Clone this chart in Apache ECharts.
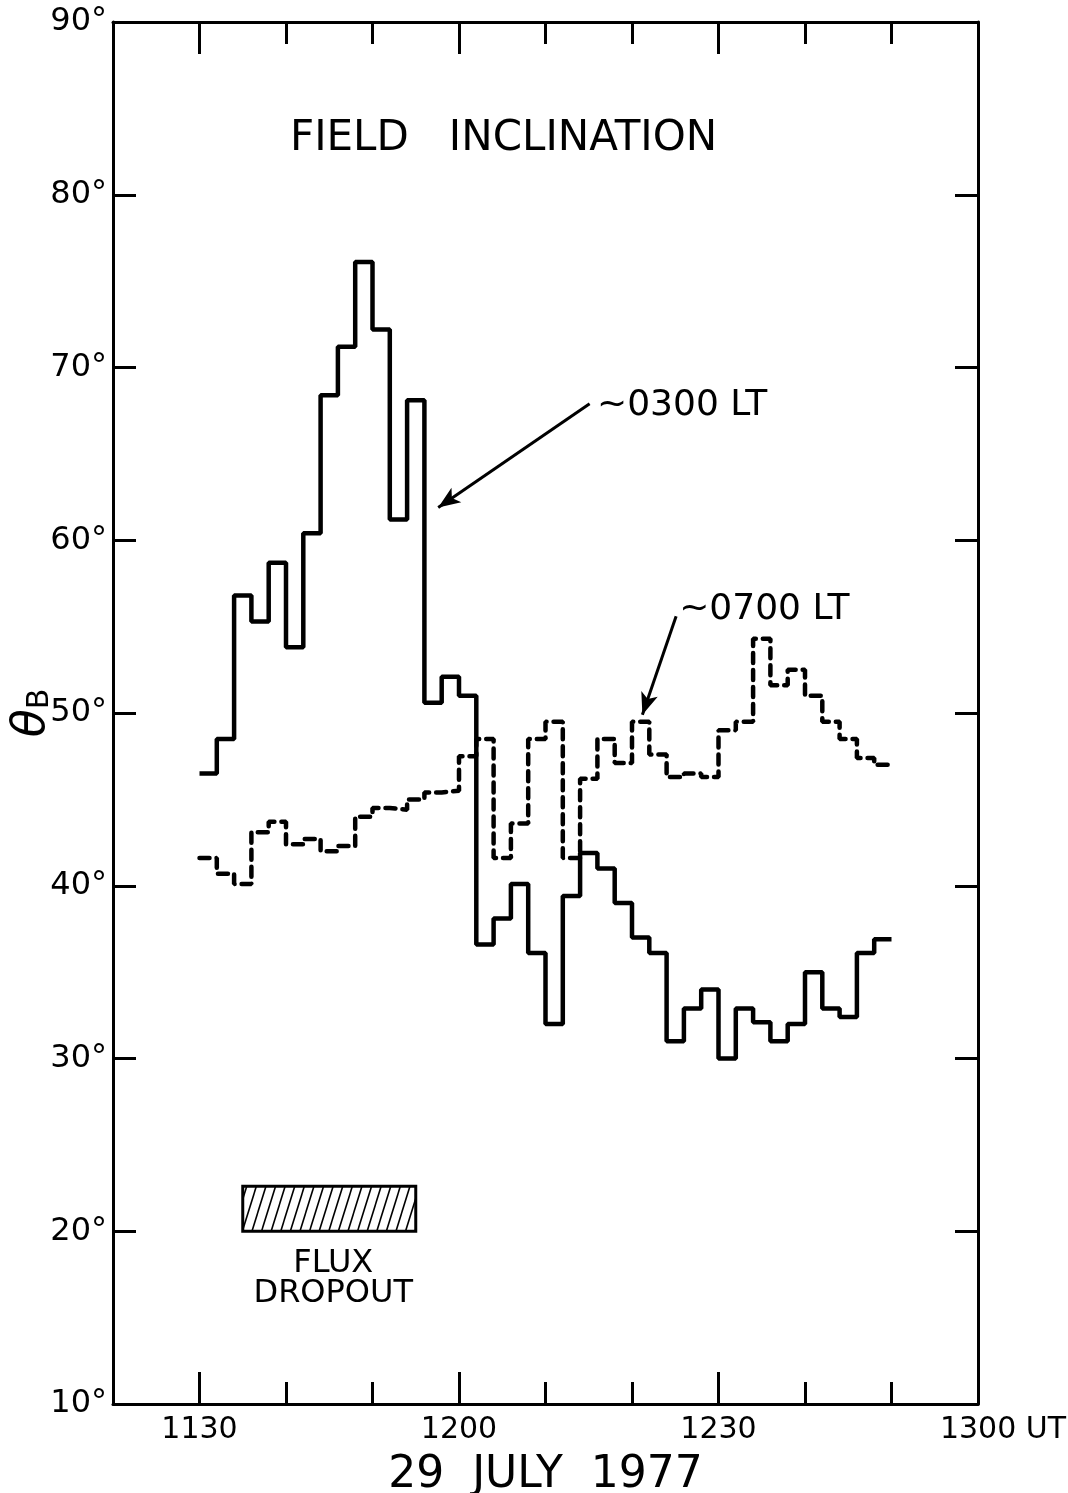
<!DOCTYPE html>
<html>
<head>
<meta charset="utf-8">
<title>Field inclination, 29 July 1977</title>
<script src="https://cdn.jsdelivr.net/npm/echarts@6/dist/echarts.min.js"></script>
<style>
  html, body { margin: 0; padding: 0; background: #fff; }
  #chart { width: 1068px; height: 1493px; }
</style>
</head>
<body>
<div id="chart"></div>
<script>
// Magnetic field inclination (deg) in 2-minute averages, 11:30–12:50 UT.
// Time is kept in minutes after 00:00 UT.
const startMinute = 690;
const stepMinutes = 2;
const incl0300 = [46.5, 48.5, 56.8, 55.3, 58.7, 53.8, 60.4, 68.4, 71.2, 76.1,
                  72.2, 61.2, 68.1, 50.6, 52.1, 51.0, 36.6, 38.1, 40.1, 36.1,
                  32.0, 39.4, 41.9, 41.0, 39.0, 37.0, 36.1, 31.0, 32.9, 34.0,
                  30.0, 32.9, 32.1, 31.0, 32.0, 35.0, 32.9, 32.4, 36.1, 36.9];
const incl0700 = [41.6, 40.7, 40.1, 43.1, 43.7, 42.4, 42.7, 42.0, 42.3, 44.0,
                  44.5, 44.4, 45.0, 45.4, 45.5, 47.5, 48.5, 41.6, 43.6, 48.5,
                  49.5, 41.6, 46.2, 48.5, 47.1, 49.5, 47.6, 46.3, 46.5, 46.3,
                  49.0, 49.5, 54.3, 51.6, 52.5, 51.0, 49.5, 48.5, 47.4, 47.0];
// flux dropout interval: start, end (minutes), lower, upper (deg)
const dropout = [695, 715, 20, 22.6];

// axis ticks and labels
const labelTimes = [690, 720, 750, 780];
const majorTicks = [690, 720, 750];
const minorTicks = [700, 710, 730, 740, 760, 770];
const yTicks = [20, 30, 40, 50, 60, 70, 80];

// annotation placement, in data units
const note0300 = { text: '~0300 LT', at: [735.9, 67.8], from: [735.1, 67.9], to: [717.6, 61.9] };
const note0700 = { text: '~0700 LT', at: [745.4, 56.0], from: [745.1, 55.6], to: [741.2, 49.9] };

const FONT = '"DejaVu Sans", "Liberation Sans", sans-serif';
const INK = '#000';

function steps(values) {
  const pts = values.map((v, i) => [startMinute + i * stepMinutes, v]);
  pts.push([startMinute + values.length * stepMinutes, values[values.length - 1]]);
  return pts;
}

function hhmm(m) {
  return String(Math.floor(m / 60) * 100 + (m % 60));
}

function noteMarks(note, fontSize) {
  return {
    markLine: {
      silent: true, animation: false,
      symbol: ['none', 'arrow'], symbolSize: [13, 22],
      lineStyle: { color: INK, width: 3, type: 'solid' },
      label: { show: false },
      data: [[{ coord: note.from }, { coord: note.to }]]
    },
    markPoint: {
      silent: true, animation: false,
      symbol: 'rect', symbolSize: 1,
      itemStyle: { color: 'rgba(0,0,0,0)' },
      label: {
        show: true, position: 'right', distance: 0,
        formatter: note.text, color: INK, fontSize: fontSize, fontFamily: FONT
      },
      data: [{ coord: note.at }]
    }
  };
}

const xBase = { type: 'value', min: 680, max: 780, gridIndex: 0, splitLine: { show: false } };
const tickStyle = { color: INK, width: 3 };

const option = {
  animation: false,
  backgroundColor: '#fff',
  title: {
    text: 'FIELD   INCLINATION',
    left: 290, top: 118, padding: 0,
    textStyle: { fontSize: 42, fontWeight: 'normal', fontFamily: FONT, color: INK }
  },
  grid: { left: 113, right: 90, top: 22, bottom: 89, outerBoundsMode: 'none', containLabel: false },
  xAxis: [
    Object.assign({}, xBase, {
      position: 'bottom',
      name: '29  JULY  1977', nameLocation: 'middle', nameGap: 50, nameMoveOverlap: false,
      nameTextStyle: { fontSize: 44, fontFamily: FONT, color: INK },
      axisLine: { show: true, lineStyle: { color: INK, width: 3 } },
      axisTick: { show: true, inside: true, length: 22, lineStyle: tickStyle, customValues: minorTicks },
      axisLabel: {
        show: true, customValues: labelTimes, margin: 11,
        color: INK, fontSize: 30, fontFamily: FONT,
        formatter: v => v === 780 ? '{p|}' + hhmm(v) + ' UT' : hhmm(v),
        rich: { p: { width: 50 } }
      }
    }),
    Object.assign({}, xBase, {
      position: 'bottom',
      axisLine: { show: false },
      axisTick: { show: true, inside: true, length: 32, lineStyle: tickStyle, customValues: majorTicks },
      axisLabel: { show: false }
    }),
    Object.assign({}, xBase, {
      position: 'top',
      axisLine: { show: true, lineStyle: { color: INK, width: 3 } },
      axisTick: { show: true, inside: true, length: 22, lineStyle: tickStyle, customValues: minorTicks },
      axisLabel: { show: false }
    }),
    Object.assign({}, xBase, {
      position: 'top',
      axisLine: { show: false },
      axisTick: { show: true, inside: true, length: 32, lineStyle: tickStyle, customValues: majorTicks },
      axisLabel: { show: false }
    })
  ],
  yAxis: [
    {
      type: 'value', min: 10, max: 90, interval: 10, position: 'left',
      splitLine: { show: false },
      name: '{t|θ}{s|B}', nameLocation: 'middle', nameGap: 58, nameRotate: 90,
      nameMoveOverlap: false,
      nameTextStyle: {
        color: INK,
        rich: {
          t: { fontSize: 46, fontStyle: 'italic', fontFamily: FONT, color: INK, lineHeight: 46 },
          s: { fontSize: 30, fontFamily: FONT, color: INK, lineHeight: 16, verticalAlign: 'bottom' }
        }
      },
      axisLine: { show: true, lineStyle: { color: INK, width: 3 } },
      axisTick: { show: true, inside: true, length: 23, lineStyle: tickStyle, customValues: yTicks },
      axisLabel: { color: INK, fontSize: 32, fontFamily: FONT, margin: 6, formatter: '{value}°' }
    },
    {
      type: 'value', min: 10, max: 90, interval: 10, position: 'right',
      splitLine: { show: false },
      axisLine: { show: true, lineStyle: { color: INK, width: 3 } },
      axisTick: { show: true, inside: true, length: 23, lineStyle: tickStyle, customValues: yTicks },
      axisLabel: { show: false }
    }
  ],
  series: [
    Object.assign({
      name: '~0300 LT', type: 'line', step: 'end',
      xAxisIndex: 0, yAxisIndex: 0,
      data: steps(incl0300),
      symbol: 'none', silent: true,
      lineStyle: { color: INK, width: 4.5 }
    }, noteMarks(note0300, 36)),
    Object.assign({
      name: '~0700 LT', type: 'line', step: 'end',
      xAxisIndex: 0, yAxisIndex: 0,
      data: steps(incl0700),
      symbol: 'none', silent: true,
      lineStyle: { color: INK, width: 4.5, type: [10, 7], cap: 'round' }
    }, noteMarks(note0700, 36)),
    {
      name: 'FLUX DROPOUT', type: 'custom',
      xAxisIndex: 0, yAxisIndex: 0, silent: true,
      data: [dropout],
      encode: { x: [0, 1], y: [2, 3] },
      renderItem: function (params, api) {
        const tl = api.coord([api.value(0), api.value(3)]);
        const br = api.coord([api.value(1), api.value(2)]);
        const x0 = tl[0], y0 = tl[1], x1 = br[0], y1 = br[1];
        const h = y1 - y0;
        const slant = 14, gap = 9.6;
        const children = [];
        // hatching: lines rising to the right, clipped to the box
        for (let xb = x0 - slant + 4; xb < x1; xb += gap) {
          let ta = 0, tb = 1;
          if (xb < x0) ta = (x0 - xb) / slant;
          if (xb + slant > x1) tb = (x1 - xb) / slant;
          if (tb <= ta) continue;
          children.push({
            type: 'line',
            shape: { x1: xb + slant * ta, y1: y1 - h * ta, x2: xb + slant * tb, y2: y1 - h * tb },
            style: { stroke: INK, lineWidth: 1.6 }
          });
        }
        children.push({
          type: 'rect',
          shape: { x: x0, y: y0, width: x1 - x0, height: h },
          style: { fill: null, stroke: INK, lineWidth: 3 }
        });
        children.push({
          type: 'text',
          style: {
            text: 'FLUX\nDROPOUT', x: (x0 + x1) / 2 + 4, y: y1 + 17,
            align: 'center', verticalAlign: 'top',
            fontSize: 32, lineHeight: 30, fontFamily: FONT, fill: INK
          }
        });
        return { type: 'group', children: children };
      }
    }
  ]
};

const chart = echarts.init(document.getElementById('chart'), null, { renderer: 'canvas' });
chart.setOption(option);
</script>
</body>
</html>
